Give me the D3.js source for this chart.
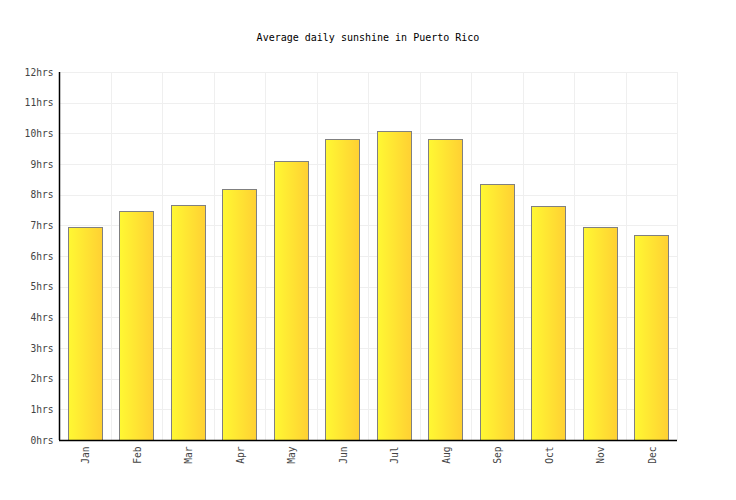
<!DOCTYPE html>
<html><head><meta charset="utf-8">
<script src="https://cdn.jsdelivr.net/npm/d3@7"></script>
<style>body{margin:0;background:#fff}svg{display:block}</style>
</head><body>
<svg id="c" width="736" height="500"></svg>
<script>
const months = ["Jan","Feb","Mar","Apr","May","Jun","Jul","Aug","Sep","Oct","Nov","Dec"];
const sunshine = [6.94,7.46,7.65,8.17,9.09,9.8,10.07,9.8,8.34,7.62,6.94,6.67];
const yTicks = [0,1,2,3,4,5,6,7,8,9,10,11,12];
const title = "Average daily sunshine in Puerto Rico";

const svg = d3.select("#c");
const m = {l:59, r:677, t:72, b:440};
const font = "'DejaVu Sans Mono', monospace";

const x = d3.scaleBand().domain(months).range([m.l, m.r]).paddingInner(0.34).paddingOuter(0.17);
const xg = d3.scaleBand().domain(months).range([m.l, m.r]);
const y = d3.scaleLinear().domain([0,12]).range([m.b, m.t]);

const defs = svg.append("defs");
const g = defs.append("linearGradient").attr("id","bg").attr("x1","0").attr("x2","1").attr("y1","0").attr("y2","0");
g.append("stop").attr("offset","0%").attr("stop-color","#fff833");
g.append("stop").attr("offset","100%").attr("stop-color","#ffd033");

// grid
svg.append("g").selectAll("line").data(yTicks).join("line")
  .attr("x1", m.l).attr("x2", m.r)
  .attr("y1", d => Math.round(y(d))+0.5).attr("y2", d => Math.round(y(d))+0.5)
  .attr("stroke", "#efefef").attr("stroke-width", 1);
svg.append("g").selectAll("line").data(months.slice(1).concat(["__end"])).join("line")
  .attr("x1", d => Math.round(d==="__end" ? m.r : xg(d))+0.5)
  .attr("x2", d => Math.round(d==="__end" ? m.r : xg(d))+0.5)
  .attr("y1", m.t).attr("y2", m.b)
  .attr("stroke", "#efefef").attr("stroke-width", 1);

// bars
svg.append("g").selectAll("rect").data(sunshine).join("rect")
  .attr("x", (d,i) => Math.round(x(months[i]))+0.5)
  .attr("y", d => Math.round(y(d))+0.5)
  .attr("width", Math.round(x.bandwidth()))
  .attr("height", d => Math.round(y(0)) - Math.round(y(d)))
  .attr("fill", "url(#bg)")
  .attr("stroke", "#808080").attr("stroke-width", 1);

// axes
const ya = svg.append("g").attr("transform", `translate(${m.l+0.5},0)`)
  .call(d3.axisLeft(y).tickValues(yTicks).tickFormat(d => d + "hrs").tickSize(0).tickPadding(6));
ya.select(".domain").attr("stroke","#000").attr("stroke-width",1.5).attr("d", `M0,${m.t}V${m.b}`);
ya.selectAll(".tick line").remove();
ya.selectAll(".tick text").attr("font-family", font).attr("font-size", "9.6px").attr("fill","#444");

const xa = svg.append("g").attr("transform", `translate(0,${m.b+0.5})`)
  .call(d3.axisBottom(x).tickSize(0).tickPadding(0));
xa.select(".domain").attr("stroke","#000").attr("stroke-width",1.5).attr("d", `M${m.l},0H${m.r}`);
xa.selectAll(".tick text")
  .attr("font-family", font).attr("font-size", "9.6px").attr("fill","#444")
  .attr("transform", "rotate(-90)")
  .attr("text-anchor", "end").attr("x", -6).attr("y", 0).attr("dy", "0.45em");

svg.append("text").attr("x", 368).attr("y", 41).attr("text-anchor","middle")
  .attr("font-family", font).attr("font-size","10px").attr("fill","#000").text(title);
</script>
</body></html>
